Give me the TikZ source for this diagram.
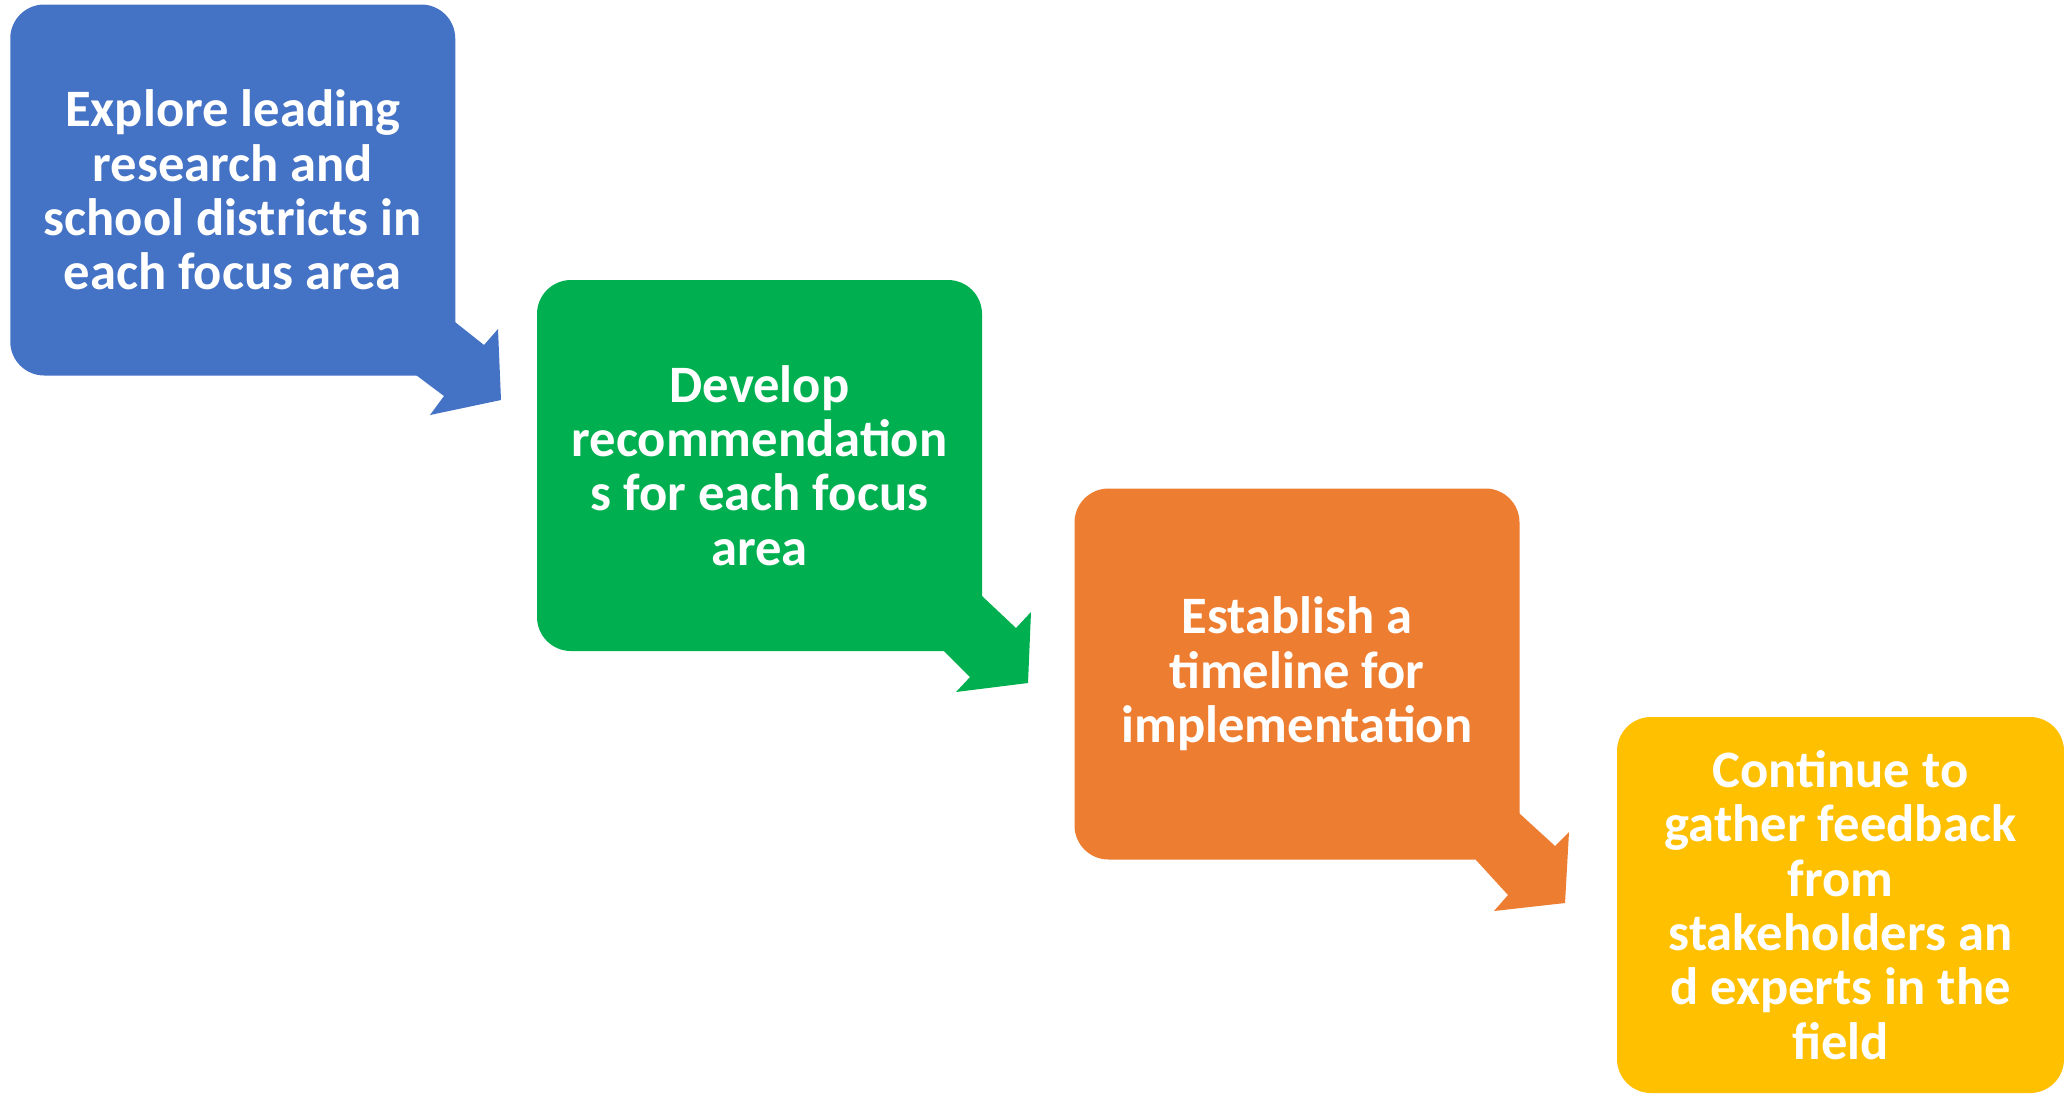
\documentclass[tikz,border=0pt]{standalone}
\usepackage{fontspec}
\setmainfont{Carlito}
\definecolor{cblue}{HTML}{4472C4}
\definecolor{cgreen}{HTML}{00B050}
\definecolor{corange}{HTML}{ED7D31}
\definecolor{cyellow}{HTML}{FFC000}
\begin{document}
\begin{tikzpicture}[x=0.5pt,y=-0.5pt]
\tikzset{
  stepbox/.style={rounded corners=17pt, minimum width=222.5pt, minimum height=185.5pt,
    text=white, font=\bfseries\fontsize{26.3pt}{27.2pt}\selectfont, align=center, inner sep=0pt},
}
\useasboundingbox (0,0) rectangle (2064,1094);
\fill[white] (0,0) rectangle (2064,1094);

\node[stepbox, fill=cblue] (s1) at (232.75,190) {Explore leading\\research and\\school districts in\\each focus area};
\fill[cblue] (455,322) -- (484,345) -- (498,329) -- (501,400) -- (430,415) -- (444,396) -- (416,375) -- (410,322) -- cycle;

\node[stepbox, fill=cgreen] (s2) at (759.5,465.5) {Develop\\recommendation\\s for each focus\\area};
\fill[cgreen] (982,596) -- (1016,628) -- (1031,612) -- (1028,683) -- (956,692) -- (970,677) -- (944,651) -- (935,596) -- cycle;

\node[stepbox, fill=corange] (s3) at (1297,674) {Establish a\\timeline for\\implementation};
\fill[corange] (1519,813) -- (1555,846) -- (1569,832) -- (1565,903) -- (1494,911) -- (1508,895) -- (1476,860) -- (1470,813) -- cycle;

\node[stepbox, fill=cyellow, minimum width=223.5pt, minimum height=188pt] (s4) at (1840.5,905) {Continue to\\gather feedback\\from\\stakeholders an\\d experts in the\\field};
\end{tikzpicture}
\end{document}
